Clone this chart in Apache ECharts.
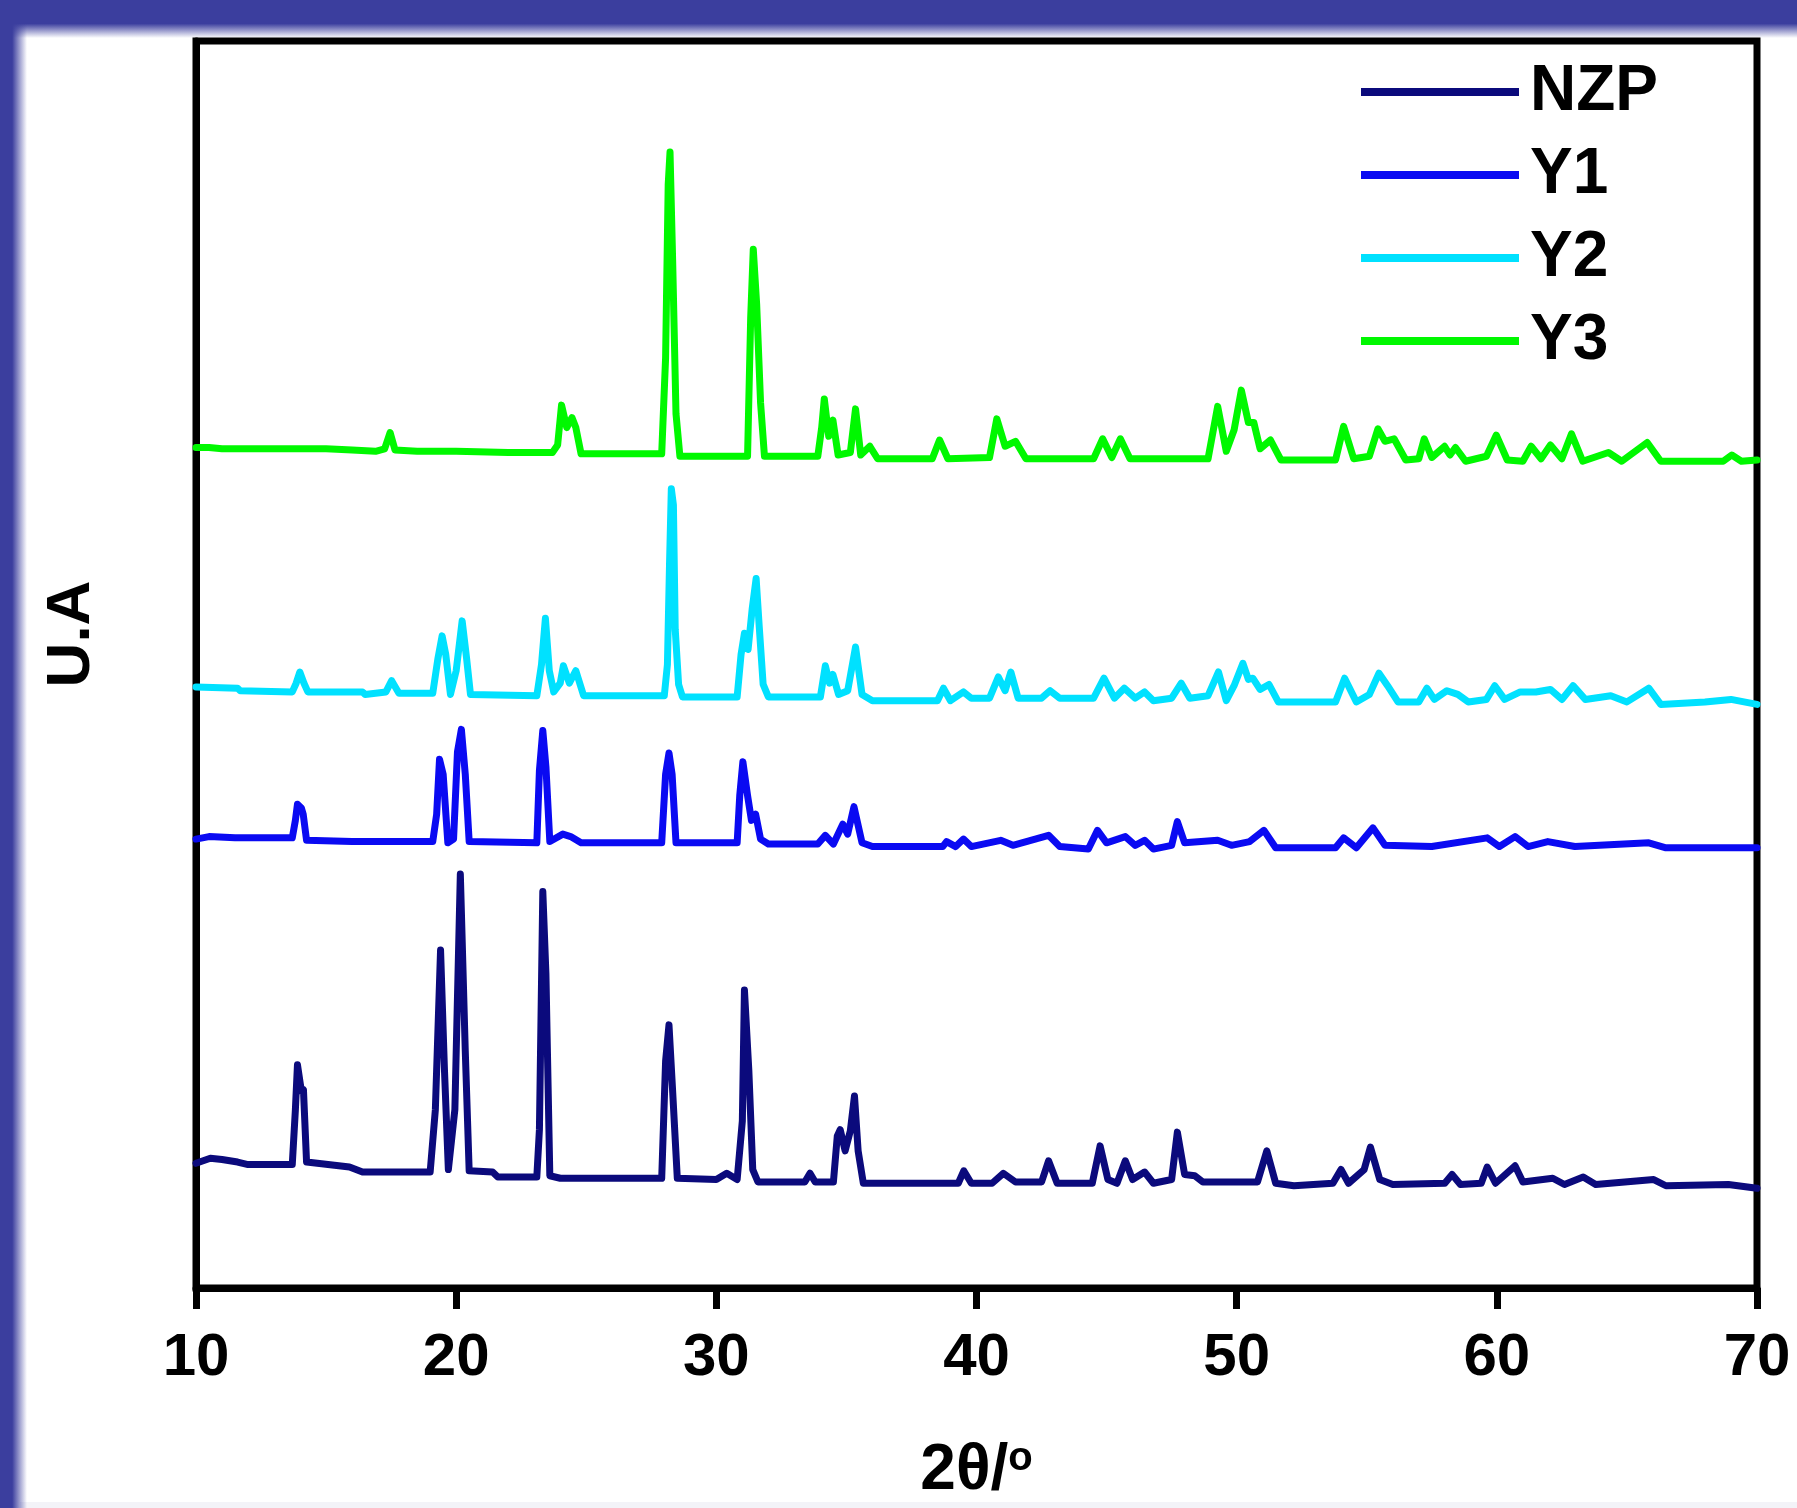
<!DOCTYPE html>
<html>
<head>
<meta charset="utf-8">
<title>XRD patterns NZP, Y1, Y2, Y3</title>
<script src="https://cdn.jsdelivr.net/npm/echarts@6/dist/echarts.min.js"></script>
<style>
  html, body { margin: 0; padding: 0; background: #ffffff; }
  #chart { width: 1797px; height: 1508px; }
</style>
</head>
<body>
<div id="chart"></div>
<script>
// X-ray diffraction patterns, 2θ in degrees vs. intensity (arbitrary units).
// Each trace is stored already shifted vertically so the four patterns stack.
const xTicks = [10, 20, 30, 40, 50, 60, 70];
const seriesNames = ['NZP', 'Y1', 'Y2', 'Y3'];

const nzp = [
  [10.0,100],[10.55,104],[11.0,103],[11.6,101],[12.0,99],[13.7,99],[13.82,143],[13.9,179],[14.05,158],[14.13,159],[14.25,101],
  [15.9,97],[16.4,93],[19.0,93],[19.2,143],[19.4,271],[19.55,175],[19.7,95],[19.95,143],[20.16,332],[20.35,190],[20.5,94],
  [21.4,93],[21.6,89],[23.1,89],[23.2,127],[23.33,318],[23.45,252],[23.6,90],[24.0,88],[27.9,88],[28.05,182],[28.18,211],
  [28.32,158],[28.5,88],[30.0,87],[30.4,92],[30.8,87],[31.0,134],[31.08,239],[31.25,174],[31.4,95],[31.6,85],[33.4,85],
  [33.6,92],[33.8,85],[34.5,85],[34.65,122],[34.76,127],[34.95,110],[35.15,126],[35.31,154],[35.45,110],[35.65,84],
  [39.3,84],[39.51,94],[39.8,84],[40.6,84],[41.03,92],[41.5,85],[42.5,85],[42.77,102],[43.1,84],[44.45,84],[44.75,114],
  [45.05,87],[45.4,84],[45.72,102],[46.0,87],[46.46,93],[46.8,84],[47.5,87],[47.72,125],[48.0,91],[48.39,90],[48.7,85],
  [50.8,85],[51.16,110],[51.5,84],[52.2,82],[53.7,84],[54.01,95],[54.3,84],[54.9,95],[55.14,113],[55.5,87],[56.0,83],
  [58.0,84],[58.28,91],[58.6,83],[59.4,84],[59.63,97],[59.95,84],[60.7,98],[61.0,85],[62.15,88],[62.6,83],[63.32,89],
  [63.8,83],[66.03,87],[66.5,82],[68.9,83],[70.0,80]
];

const y1 = [
  [10.0,360],[10.5,362],[11.5,361],[12.5,361],[13.7,361],[13.82,375],[13.9,388],[14.05,385],[14.12,380],[14.25,359],
  [16.0,358],[19.1,358],[19.25,380],[19.36,424],[19.5,412],[19.68,357],[19.9,360],[20.05,430],[20.2,448],[20.35,412],
  [20.5,358],[23.1,357],[23.2,415],[23.33,447],[23.45,418],[23.6,358],[24.1,364],[24.4,362],[24.8,357],[27.9,357],
  [28.05,412],[28.18,429],[28.3,412],[28.45,357],[30.8,357],[30.9,395],[31.02,422],[31.2,395],[31.35,375],[31.51,380],
  [31.7,360],[32.0,356],[33.9,356],[34.19,363],[34.5,356],[34.86,372],[35.05,364],[35.29,386],[35.6,357],[36.0,354],
  [38.7,354],[38.85,358],[39.2,354],[39.5,360],[39.8,354],[40.93,359],[41.4,355],[42.77,363],[43.2,354],[44.3,352],
  [44.65,367],[45.0,357],[45.72,362],[46.1,355],[46.46,359],[46.8,352],[47.5,355],[47.72,374],[48.0,357],[49.27,359],
  [49.8,355],[50.5,358],[51.05,367],[51.5,353],[53.8,353],[54.11,361],[54.6,353],[55.24,369],[55.7,355],[57.5,354],
  [59.63,361],[60.1,354],[60.7,362],[61.2,354],[61.96,358],[63.0,354],[65.84,357],[66.5,353],[70.0,353]
];

const y2 = [
  [10.0,482],[11.6,481],[11.7,479],[13.7,478],[13.85,485],[13.99,494],[14.15,485],[14.3,478],[16.4,478],[16.5,476],
  [17.3,478],[17.52,487],[17.8,477],[19.1,477],[19.3,505],[19.46,523],[19.6,508],[19.78,476],[20.0,495],[20.23,535],
  [20.4,505],[20.55,476],[23.1,475],[23.28,500],[23.43,537],[23.58,495],[23.75,478],[24.0,485],[24.12,499],[24.35,485],
  [24.6,495],[24.9,475],[28.0,475],[28.12,500],[28.2,580],[28.27,641],[28.35,628],[28.42,528],[28.55,484],[28.7,474],
  [30.8,474],[30.95,508],[31.08,525],[31.22,512],[31.38,545],[31.53,569],[31.65,530],[31.8,484],[32.0,474],[34.0,474],
  [34.19,499],[34.35,485],[34.48,492],[34.7,476],[35.05,479],[35.35,514],[35.6,476],[36.0,471],[38.5,471],[38.73,481],
  [39.0,471],[39.5,478],[39.8,473],[40.5,473],[40.84,490],[41.1,479],[41.32,494],[41.6,473],[42.5,473],[42.83,479],
  [43.2,473],[44.5,473],[44.9,489],[45.3,473],[45.68,481],[46.1,473],[46.46,478],[46.8,471],[47.5,473],[47.87,485],
  [48.2,473],[48.9,475],[49.3,494],[49.6,471],[49.9,483],[50.24,501],[50.45,488],[50.62,489],[50.9,480],[51.24,484],
  [51.6,470],[53.8,470],[54.15,489],[54.6,470],[55.1,476],[55.47,493],[55.8,483],[56.2,470],[57.0,470],[57.31,481],
  [57.6,472],[58.08,479],[58.5,476],[58.9,470],[59.6,472],[59.92,483],[60.3,472],[60.9,478],[61.5,478],[62.06,480],
  [62.5,472],[62.93,483],[63.4,472],[64.38,475],[65.0,470],[65.84,481],[66.3,468],[68.0,470],[69.0,472],[70.0,468]
];

const y3 = [
  [10.0,674],[10.5,674],[11.0,673],[12.0,673],[13.0,673],[14.0,673],[15.0,673],[16.0,672],[16.9,671],[17.25,673],
  [17.46,686],[17.65,672],[18.5,671],[20.0,671],[22.0,670],[23.7,670],[23.9,676],[24.05,708],[24.25,690],[24.45,698],
  [24.6,690],[24.8,669],[26.0,669],[27.9,669],[28.05,746],[28.15,885],[28.22,911],[28.32,825],[28.45,701],[28.6,667],
  [30.0,667],[31.2,667],[31.32,778],[31.42,833],[31.55,789],[31.7,710],[31.85,667],[33.9,667],[34.05,690],[34.15,713],
  [34.32,683],[34.48,696],[34.68,668],[35.15,670],[35.35,705],[35.55,668],[35.9,675],[36.2,665],[38.3,665],[38.58,680],
  [38.9,665],[40.5,666],[40.78,697],[41.1,675],[41.5,679],[41.9,665],[44.5,665],[44.85,681],[45.2,666],[45.53,681],
  [45.9,665],[48.9,665],[49.27,707],[49.6,671],[49.9,688],[50.18,720],[50.45,694],[50.66,694],[50.9,673],[51.3,680],
  [51.7,664],[53.8,664],[54.11,691],[54.5,665],[55.1,667],[55.43,689],[55.7,679],[56.05,681],[56.5,664],[57.0,665],
  [57.21,681],[57.5,666],[57.99,675],[58.2,668],[58.41,674],[58.8,663],[59.6,667],[59.98,684],[60.4,664],[61.0,663],
  [61.32,675],[61.7,665],[62.06,676],[62.5,665],[62.87,685],[63.3,663],[64.29,670],[64.8,663],[65.78,678],[66.3,663],
  [68.7,663],[69.03,668],[69.4,663],[70.0,664]
];

const seriesData = [nzp, y1, y2, y3];
const seriesColors = ['#0b0a7c', '#0a0af2', '#00e1ff', '#00f800'];

const FONT = '"Liberation Sans", Arial, sans-serif';
const W = 1797, H = 1508;

const chart = echarts.init(document.getElementById('chart'), null, { renderer: 'canvas', width: W, height: H });

chart.setOption({
  animation: false,
  backgroundColor: '#ffffff',
  grid: {
    left: 196, right: 40, top: 41, bottom: 209,
    show: true, borderColor: '#000000', borderWidth: 7, backgroundColor: 'transparent'
  },
  graphic: [
    // slide frame: blue band along the top edge
    {
      type: 'rect', z: -10, silent: true,
      shape: { x: 0, y: 0, width: W, height: 38 },
      style: {
        fill: new echarts.graphic.LinearGradient(0, 0, 0, 1, [
          { offset: 0, color: '#3b3e9e' },
          { offset: 0.62, color: '#3b3e9e' },
          { offset: 1, color: 'rgba(59,62,158,0)' }
        ])
      }
    },
    // slide frame: blue band along the left edge
    {
      type: 'rect', z: -10, silent: true,
      shape: { x: 0, y: 0, width: 27, height: H },
      style: {
        fill: new echarts.graphic.LinearGradient(0, 0, 1, 0, [
          { offset: 0, color: '#3b3e9e' },
          { offset: 0.45, color: '#3b3e9e' },
          { offset: 1, color: 'rgba(59,62,158,0)' }
        ])
      }
    },
    // faint strip along the bottom edge
    {
      type: 'rect', z: -11, silent: true,
      shape: { x: 20, y: 1502, width: W - 20, height: 6 },
      style: { fill: '#f3f3f8' }
    },
    // y-axis title
    {
      type: 'text', silent: true,
      x: 72, y: 634, rotation: Math.PI / 2,
      style: {
        text: 'U.A', fill: '#000000',
        font: 'bold 62px ' + FONT,
        align: 'center', verticalAlign: 'middle'
      }
    }
  ],
  legend: {
    data: seriesNames,
    orient: 'vertical',
    left: 1356, top: 55,
    icon: 'rect',
    itemWidth: 158, itemHeight: 8, itemGap: 19,
    selectedMode: false,
    textStyle: {
      fontFamily: FONT, fontWeight: 'bold', fontSize: 64, lineHeight: 64, color: '#000000',
      padding: [0, 0, 0, 6]
    }
  },
  xAxis: {
    type: 'value',
    min: 10, max: 70, interval: 10,
    name: '{a|2θ/}{s|o}',
    nameLocation: 'middle',
    nameGap: 151,
    nameTextStyle: {
      rich: {
        a: { fontFamily: FONT, fontWeight: 'bold', fontSize: 64, lineHeight: 64, color: '#000000' },
        s: { fontFamily: FONT, fontWeight: 'bold', fontSize: 40, lineHeight: 64, color: '#000000', padding: [0, 0, 24, 0] }
      }
    },
    axisLine: { show: true, onZero: false, lineStyle: { color: '#000000', width: 7 } },
    axisTick: { show: true, inside: false, length: 21, lineStyle: { color: '#000000', width: 7 } },
    axisLabel: {
      show: true, margin: 40, color: '#000000',
      fontFamily: FONT, fontWeight: 'bold', fontSize: 60,
      formatter: function (v) { return xTicks.indexOf(v) >= 0 ? String(v) : ''; }
    },
    splitLine: { show: false }
  },
  yAxis: {
    type: 'value',
    min: 0, max: 1000,
    axisLine: { show: true, onZero: false, lineStyle: { color: '#000000', width: 7 } },
    axisTick: { show: false },
    axisLabel: { show: false },
    splitLine: { show: false }
  },
  series: seriesNames.map(function (name, i) {
    return {
      name: name,
      type: 'line',
      data: seriesData[i],
      color: seriesColors[i],
      showSymbol: false,
      symbol: 'none',
      smooth: false,
      clip: true,
      lineStyle: { width: 7, color: seriesColors[i], join: 'round', cap: 'round' },
      itemStyle: { color: seriesColors[i] },
      z: 3 + i
    };
  })
});
</script>
</body>
</html>
